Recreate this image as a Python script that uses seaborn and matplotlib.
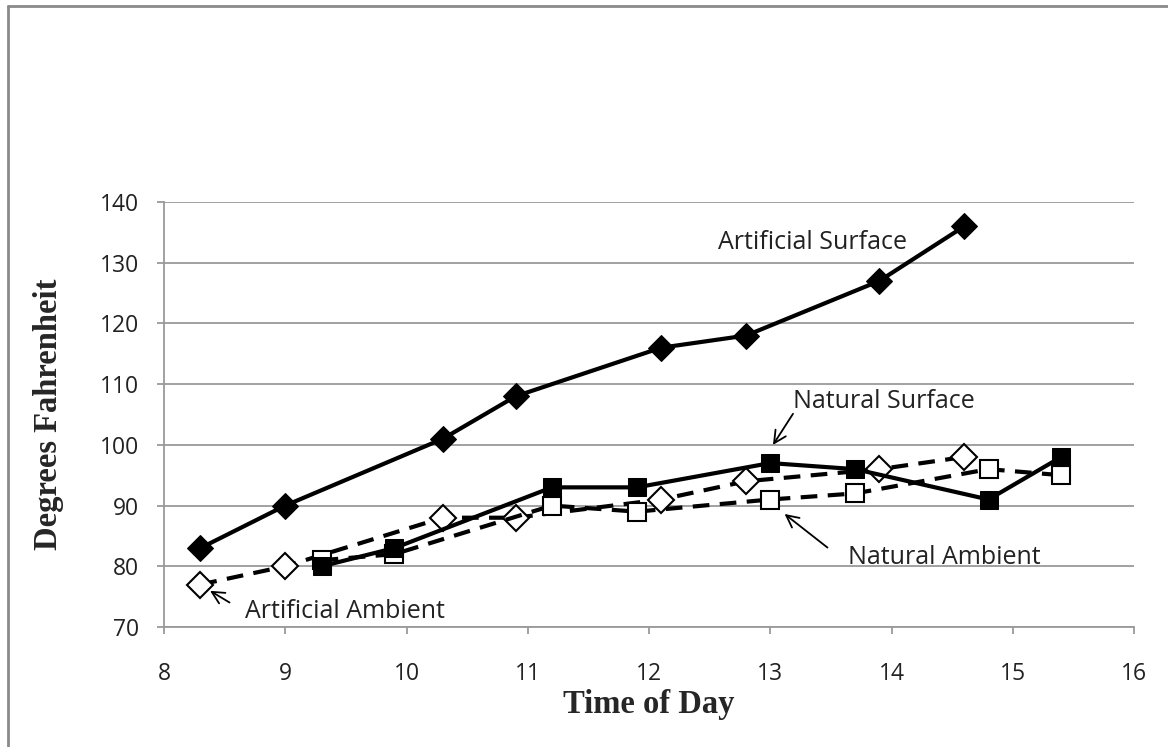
import matplotlib
matplotlib.use("Agg")
import matplotlib.pyplot as plt
import seaborn as sns
import pandas as pd

# readings taken through the day (hour of day, degrees F)
art_time = [8.3, 9.0, 10.3, 10.9, 12.1, 12.8, 13.9, 14.6]
nat_time = [9.3, 9.9, 11.2, 11.9, 13.0, 13.7, 14.8, 15.4]

art_surface = [83, 90, 101, 108, 116, 118, 127, 136]
art_ambient = [77, 80, 88, 88, 91, 94, 96, 98]
nat_surface = [80, 83, 93, 93, 97, 96, 91, 98]
nat_ambient = [81, 82, 90, 89, 91, 92, 96, 95]

x_ticks = [8, 9, 10, 11, 12, 13, 14, 15, 16]
y_ticks = [70, 80, 90, 100, 110, 120, 130, 140]

sns.set_style("white")
plt.rcParams["font.family"] = ["Open Sans", "DejaVu Sans"]

fig = plt.figure(figsize=(11.68, 7.47), dpi=100)
ax = fig.add_axes([164 / 1168, 1 - 627 / 747, 970 / 1168, 425 / 747])

grey = "#9a9a9a"
dash = (0, (4, 2.5))

df_as = pd.DataFrame({"t": art_time, "deg": art_surface})
df_aa = pd.DataFrame({"t": art_time, "deg": art_ambient})
df_ns = pd.DataFrame({"t": nat_time, "deg": nat_surface})
df_na = pd.DataFrame({"t": nat_time, "deg": nat_ambient})

sns.lineplot(data=df_as, x="t", y="deg", ax=ax, sort=False, color="black", lw=3,
             marker="D", ms=13, mfc="black", mec="black", zorder=5)
sns.lineplot(data=df_aa, x="t", y="deg", ax=ax, sort=False, color="black", lw=3,
             dashes=False, linestyle=dash, marker="D", ms=13, mfc="white",
             mec="black", mew=1.5, zorder=4)
sns.lineplot(data=df_ns, x="t", y="deg", ax=ax, sort=False, color="black", lw=3,
             marker="s", ms=13, mfc="black", mec="black", zorder=6)
sns.lineplot(data=df_na, x="t", y="deg", ax=ax, sort=False, color="black", lw=3,
             dashes=False, linestyle=dash, marker="s", ms=13, mfc="white",
             mec="black", mew=1.5, zorder=4)

ax.set_xlim(8, 16)
ax.set_ylim(70, 140)
ax.set_xticks(x_ticks)
ax.set_yticks(y_ticks)
ax.yaxis.grid(True, color=grey, lw=1.3)
ax.xaxis.grid(False)
ax.set_axisbelow(True)
for side in ["top", "right"]:
    ax.spines[side].set_visible(False)
for side in ["left", "bottom"]:
    ax.spines[side].set_color(grey)
    ax.spines[side].set_linewidth(1.3)
ax.tick_params(axis="both", direction="out", length=5, width=1.3, color=grey,
               labelsize=16.5, labelcolor="#222222", left=True, bottom=True)
ax.tick_params(axis="y", pad=13)
ax.tick_params(axis="x", pad=20)

ax.set_xlabel("Time of Day", fontsize=23.5, fontweight="bold", family="Liberation Serif",
              labelpad=2)
ax.set_ylabel("Degrees Fahrenheit", fontsize=23.5, fontweight="bold",
              family="Liberation Serif", labelpad=26)

lbl = dict(fontsize=18, color="#222222", va="center", ha="left")
ax.text(12.57, 133.3, "Artificial Surface", **lbl)
ax.text(13.19, 107.2, "Natural Surface", **lbl)
ax.text(13.64, 81.5, "Natural Ambient", **lbl)
ax.text(8.67, 72.5, "Artificial Ambient", **lbl)

arrow = dict(arrowstyle="->", color="black", lw=1.3, mutation_scale=22)
ax.annotate("", xy=(13.01, 99.6), xytext=(13.2, 105.5), arrowprops=arrow)
ax.annotate("", xy=(13.1, 88.9), xytext=(13.49, 82.8), arrowprops=arrow)
ax.annotate("", xy=(8.36, 76.2), xytext=(8.56, 73.8), arrowprops=arrow)

# outer frame of the chart area (left and top edges show)
fig.add_artist(plt.Line2D([8 / 1168, 8 / 1168], [0, 1 - 6 / 747], color="#8a8a8a",
                          lw=2, transform=fig.transFigure))
fig.add_artist(plt.Line2D([8 / 1168, 1], [1 - 6 / 747, 1 - 6 / 747], color="#8a8a8a",
                          lw=2, transform=fig.transFigure))

fig.savefig("out.png", dpi=100)
